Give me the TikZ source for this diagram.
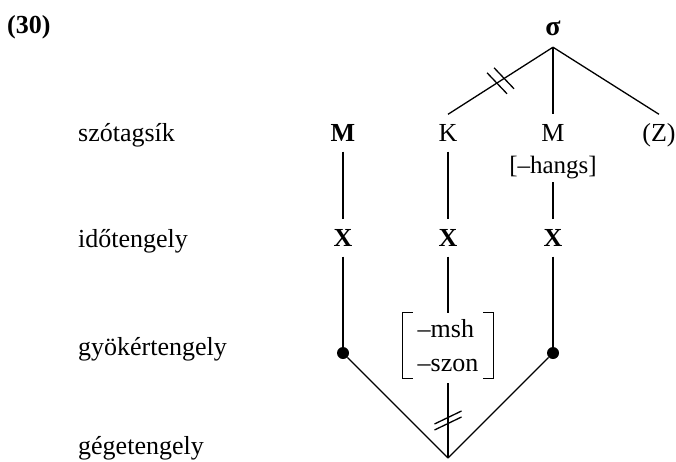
\documentclass[tikz,border=0pt]{standalone}
\usepackage{fontspec}
\setmainfont{Liberation Serif}
\usetikzlibrary{calc}
\newcommand{\diagfont}{\fontsize{26}{30}\selectfont}
% two short parallel strokes across a line: #1 centre, #2 half stroke, #3 half gap
\newcommand{\dblstroke}[3]{%
  \draw[assoc] ($(#1)+(#3)-(#2)$) -- ($(#1)+(#3)+(#2)$);
  \draw[assoc] ($(#1)-(#3)-(#2)$) -- ($(#1)-(#3)+(#2)$);}
\tikzset{
  tier/.style={anchor=base west, font=\diagfont, inner sep=0pt},
  seg/.style={anchor=base, font=\diagfont, text height=17pt, text depth=0pt,
    inner xsep=2pt, inner ysep=10pt},
  boldseg/.style={seg, font=\diagfont\bfseries},
  sylnode/.style={anchor=base, font=\fontsize{28}{30}\selectfont\bfseries,
    text height=12pt, text depth=0pt, inner ysep=12pt},
  featbox/.style={font=\fontsize{26}{34}\selectfont, align=left,
    minimum width=90pt, minimum height=65pt, inner sep=0pt},
  rootdot/.style={circle, fill, minimum size=12pt, inner sep=0pt},
  assoc/.style={line width=1.3pt}
}
\begin{document}
\begin{tikzpicture}[x=1pt, y=-1pt]
  \useasboundingbox (0,0) rectangle (676,461);

  % example number and tier names
  \node[tier, font=\diagfont\bfseries] (exno) at (7,33.5) {(30)};
  \node[tier] (syltier) at (78,141.5) {szótagsík};
  \node[tier] (timetier) at (78,247) {időtengely};
  \node[tier] (roottier) at (78,355) {gyökértengely};
  \node[tier] (larytier) at (78,454) {gégetengely};

  % --- syllable tier ---
  \node[sylnode] (sigma) at (553,35) {σ};
  \node[boldseg] (m1) at (343,141.5) {M};
  \node[seg] (k) at (448,141.5) {K};
  \node[seg] (m2) at (553,141.5) {M};
  \node[seg] (z) at (659,141.5) {(Z)};
  \node[seg, inner ysep=9pt, font=\fontsize{25}{30}\selectfont] (hangs) at (553,173) {[–hangs]};

  % --- timing tier ---
  \node[boldseg] (x1) at (343,246.5) {X};
  \node[boldseg] (x2) at (448,246.5) {X};
  \node[boldseg] (x3) at (553,246.5) {X};

  % --- root tier ---
  \node[rootdot] (dot1) at (343,353) {};
  \node[rootdot] (dot2) at (553,353) {};
  \node[featbox] (feat) at (448,345.5) {–msh\\–szon};
  \draw[assoc] ($(feat.north west)+(10,0)$) -- (feat.north west)
    -- (feat.south west) -- ++(10,0);
  \draw[assoc] ($(feat.north east)+(-10,0)$) -- (feat.north east)
    -- (feat.south east) -- ++(-10,0);

  % --- laryngeal tier ---
  \coordinate (apex) at (448,458);

  % association lines
  \draw[assoc] (sigma.south) -- (k.north);
  \draw[assoc] (sigma.south) -- (m2.north);
  \draw[assoc] (sigma.south) -- (z.north);
  \draw[assoc] (m1.south) -- (x1.north);
  \draw[assoc] (k.south) -- (x2.north);
  \draw[assoc] (hangs.south) -- (x3.north);
  \draw[assoc] (x1.south) -- (dot1);
  \draw[assoc] (x2.south) -- (feat.north);
  \draw[assoc] (x3.south) -- (dot2);
  \draw[assoc] (dot1) -- (apex);
  \draw[assoc] (dot2) -- (apex);
  \draw[assoc, shorten <=5pt] (feat.south) -- (apex);

  % delinking marks
  \coordinate (cutk) at ($(sigma.south)!0.5!(k.north)$);
  \coordinate (cutlar) at ($(feat.south)!0.53!(apex)$);
  \dblstroke{cutk}{10,10.5}{3.5,-2.5}
  \dblstroke{cutlar}{13.5,-6.5}{0,3}
\end{tikzpicture}
\end{document}
